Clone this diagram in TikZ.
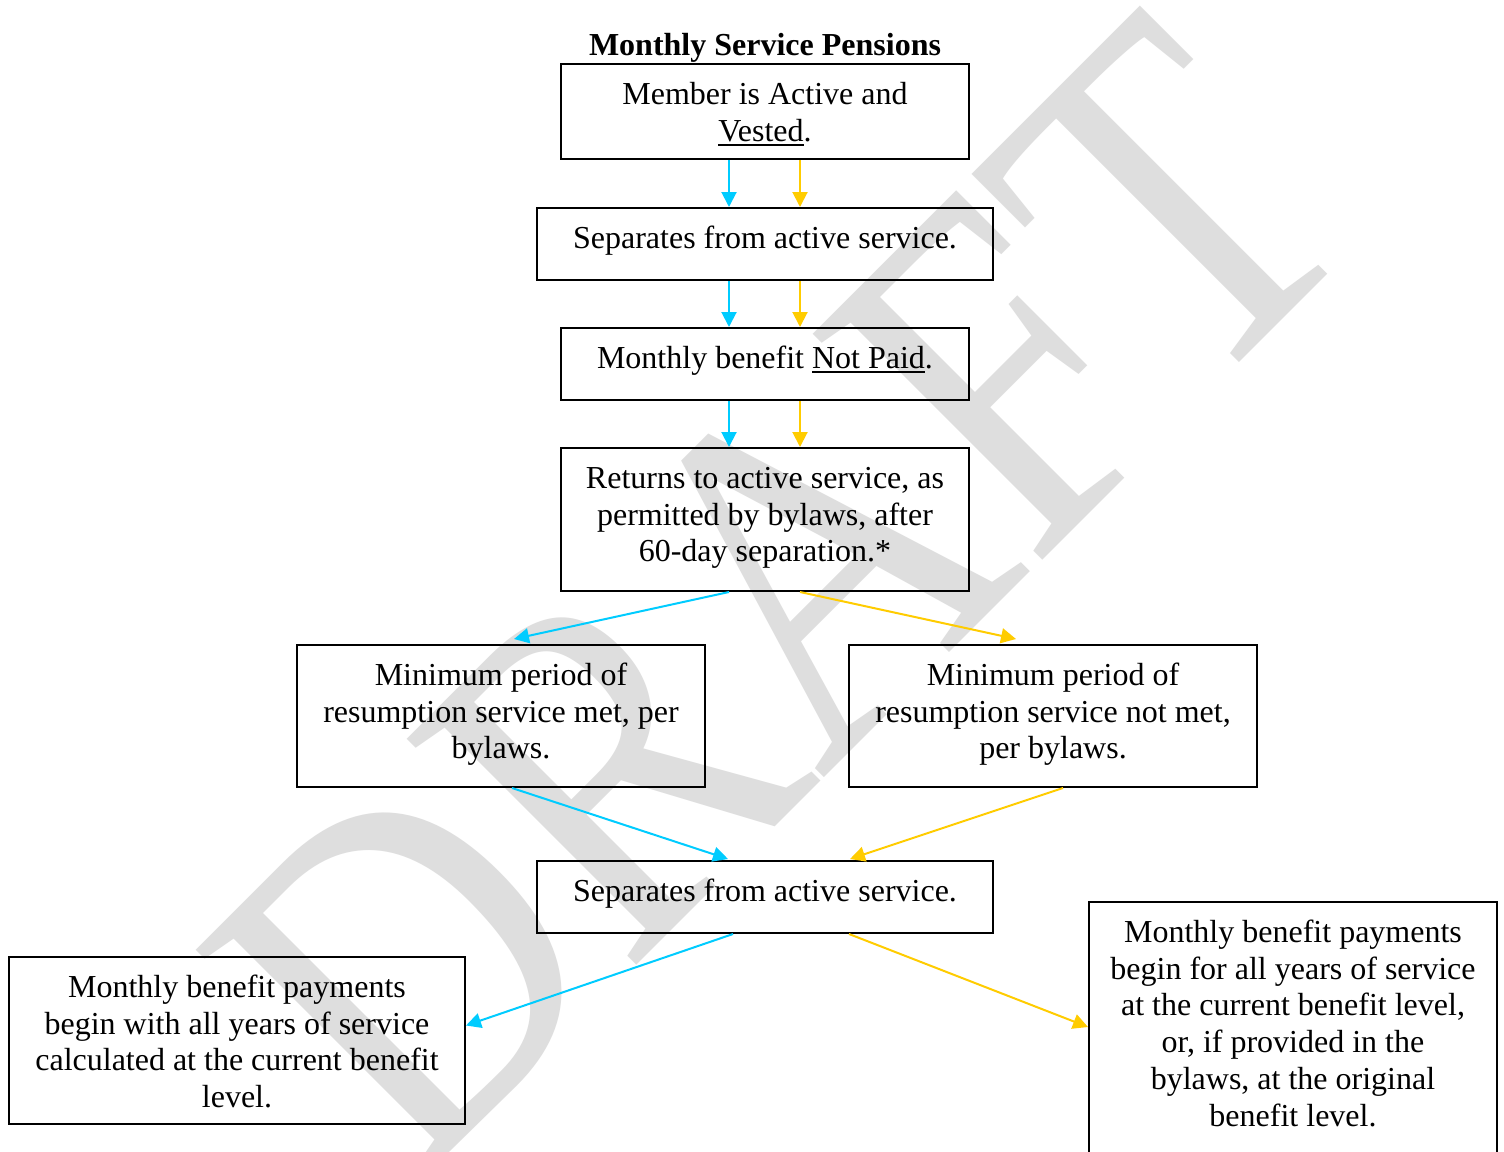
\documentclass[tikz,border=0pt]{standalone}
\usepackage{fontspec}
\setmainfont{Liberation Serif}
\usetikzlibrary{arrows.meta,calc}
\definecolor{cyanl}{RGB}{0,204,255}
\definecolor{gold}{RGB}{255,204,0}
\definecolor{wmgray}{RGB}{222,222,222}
\newcommand\ulx[1]{\setbox0\hbox{#1}\rlap{\rule[-4.5pt]{\wd0}{1.8pt}}\box0}
\newcommand\fst{\rule{0pt}{30pt}}
\begin{document}
\begin{tikzpicture}[x=1pt,y=-1pt,
  box/.style={draw=black, line width=2pt, inner sep=0pt},
  txt/.style={inner sep=0pt, anchor=north, align=center, font=\fontsize{32}{36.8}\selectfont},
  ab/.style={line width=2pt, draw=cyanl, -{Triangle[length=15pt,width=15pt]}},
  ay/.style={line width=2pt, draw=gold, -{Triangle[length=15pt,width=15pt]}}
]
\useasboundingbox (0,0) rectangle (1504,1151);
\clip (0,0) rectangle (1504,1151);
\fill[white] (0,0) rectangle (1504,1151);

% watermark
\begin{scope}[shift={(415,1187)}]
\node[rotate=45, xscale=0.84, anchor=base west, inner sep=0pt, text=wmgray,
      font=\fontsize{492}{492}\selectfont] (wmk) at (0,0) {DRAFT};
\end{scope}

% title
\node[inner sep=0pt, anchor=base, font=\fontsize{32}{36.8}\selectfont\bfseries] (title) at (765,55) {Monthly Service Pensions};

% boxes
\node[box, minimum width=408pt, minimum height=95pt]  (A) at (765,111.5) {};
\node[box, minimum width=456pt, minimum height=72pt]  (B) at (765,244) {};
\node[box, minimum width=408pt, minimum height=72pt]  (C) at (765,364) {};
\node[box, minimum width=408pt, minimum height=143pt] (D) at (765,519.5) {};
\node[box, minimum width=408pt, minimum height=142pt] (E) at (501,716) {};
\node[box, minimum width=408pt, minimum height=142pt] (F) at (1053,716) {};
\node[box, minimum width=456pt, minimum height=72pt]  (G) at (765,897) {};
\node[box, minimum width=456pt, minimum height=167pt] (H) at (237,1040.5) {};
\node[box, minimum width=408pt, minimum height=268pt] (I) at (1293,1036) {};

% texts
\node[txt] (At) at (765,74) {\fst Member is Active and\\\ulx{Vested}.};
\node[txt] (Bt) at (765,218) {\fst Separates from active service.};
\node[txt] (Ct) at (765,338) {\fst Monthly benefit \ulx{Not Paid}.};
\node[txt] (Dt) at (765,458) {\fst Returns to active service, as\\permitted by bylaws, after\\60-day separation.*};
\node[txt] (Et) at (501,655) {\fst Minimum period of\\resumption service met, per\\bylaws.};
\node[txt] (Ft) at (1053,655) {\fst Minimum period of\\resumption service not met,\\per bylaws.};
\node[txt] (Gt) at (765,871) {\fst Separates from active service.};
\node[txt] (Ht) at (237,967) {\fst Monthly benefit payments\\begin with all years of service\\calculated at the current benefit\\level.};
\node[txt] (It) at (1293,912) {\fst Monthly benefit payments\\begin for all years of service\\at the current benefit level,\\or, if provided in the\\bylaws, at the original\\benefit level.};

% connectors
\draw[ab] ($(A.south)+(-36,0)$) -- ($(B.north)+(-36,0)$);
\draw[ay] ($(A.south)+(35,0)$)  -- ($(B.north)+(35,0)$);
\draw[ab] ($(B.south)+(-36,0)$) -- ($(C.north)+(-36,0)$);
\draw[ay] ($(B.south)+(35,0)$)  -- ($(C.north)+(35,0)$);
\draw[ab] ($(C.south)+(-36,0)$) -- ($(D.north)+(-36,0)$);
\draw[ay] ($(C.south)+(35,0)$)  -- ($(D.north)+(35,0)$);
\draw[ab] ($(D.south)+(-36,0)$) -- ($(E.north)+(13,-5)$);
\draw[ay] ($(D.south)+(35,0)$)  -- ($(F.north)+(-37,-5)$);
\draw[ab] ($(E.south)+(11,0)$)  -- ($(G.north)+(-37,-1)$);
\draw[ay] ($(F.south)+(10,0)$)  -- ($(G.north)+(85,-1)$);
\draw[ab] ($(G.south)+(-32,0)$) -- ($(H.east)+(0,-15)$);
\draw[ay] ($(G.south)+(84,0)$)  -- ($(I.north west)+(0,126)$);
\end{tikzpicture}
\end{document}
